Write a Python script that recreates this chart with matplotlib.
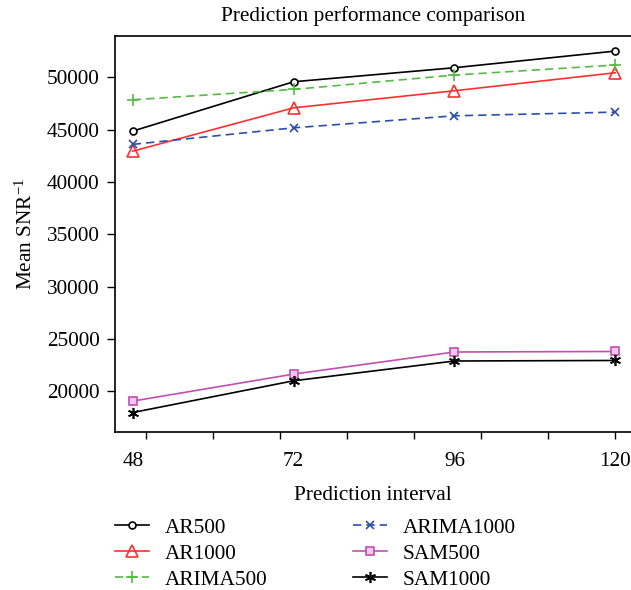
import numpy as np
import matplotlib
matplotlib.use('Agg')
import matplotlib.pyplot as plt

plt.rcParams['font.family'] = ['Liberation Serif', 'DejaVu Serif']
plt.rcParams['mathtext.fontset'] = 'custom'
plt.rcParams['mathtext.rm'] = 'Liberation Serif'
plt.rcParams['mathtext.it'] = 'Liberation Serif:italic'

# data
intervals = [48, 72, 96, 120]
ar500 = [44870, 49580, 50920, 52510]
ar1000 = [42950, 47090, 48720, 50440]
arima500 = [47860, 48850, 50220, 51180]
arima1000 = [43600, 45180, 46330, 46680]
sam500 = [19080, 21660, 23770, 23820]
sam1000 = [17990, 21020, 22910, 22960]

FS = 15.3

fig = plt.figure(figsize=(6.31, 5.9), dpi=100)
ax = fig.add_axes([114.7 / 631, (590 - 432.3) / 590, (632 - 114.7) / 631, (432.3 - 36) / 590])

ax.plot(intervals, ar500, color='black', lw=1.2, marker='o', ms=5, mfc='white', mec='black', mew=1.2, label='AR500')
ax.plot(intervals, ar1000, color='#ff3030', lw=1.2, marker='^', ms=8, mfc='none', mec='#ff3030', mew=1.2, label='AR1000')
ax.plot(intervals, arima500, color='#55bb44', lw=1.2, ls=(0, (5, 3)), marker='+', ms=9, mew=1.2, label='ARIMA500')
ax.plot(intervals, arima1000, color='#2a4faa', lw=1.2, ls=(0, (5, 3)), marker='x', ms=6, mew=1.2, label='ARIMA1000')
ax.plot(intervals, sam500, color='#c24fb0', lw=1.2, marker='s', ms=6, mfc='#f0c8ea', mec='#c24fb0', mew=1.2, label='SAM500')
ax.plot(intervals, sam1000, color='black', lw=1.2, marker=(6, 2, 0), ms=8, mew=1.2, label='SAM1000')

ax.set_xlim(45.3, 122.5)
ax.set_ylim(16100, 53950)

# unlabeled ticks every 10, labels sit at the data positions
ax.xaxis.remove_overlapping_locs = False
ax.set_xticks(np.arange(50, 121, 10))
ax.set_xticklabels([])
ax.set_xticks(intervals, minor=True)
ax.set_xticklabels([str(v) for v in intervals], minor=True)
ax.tick_params(axis='x', which='minor', length=0, pad=14, labelsize=FS)
ax.tick_params(axis='x', which='major', length=5, width=1, direction='out')
ax.set_yticks([20000, 25000, 30000, 35000, 40000, 45000, 50000])
ax.tick_params(axis='y', length=6, width=1, direction='out', labelsize=FS, pad=5)

for s in ax.spines.values():
    s.set_linewidth(1.2)

ax.set_title('Prediction performance comparison', fontsize=FS, pad=11)
ax.set_xlabel('Prediction interval', fontsize=FS, labelpad=11)
ax.set_ylabel('Mean SNR$^{-1}$', fontsize=FS, labelpad=7)

fig.legend(loc='upper left', bbox_to_anchor=(115 / 631, 1 - 518 / 590), ncol=2, frameon=False,
           borderpad=0, borderaxespad=0, fontsize=FS, handlelength=1.6, columnspacing=4.0,
           labelspacing=0.28, handletextpad=0.75)

fig.savefig('out.png', dpi=100)
